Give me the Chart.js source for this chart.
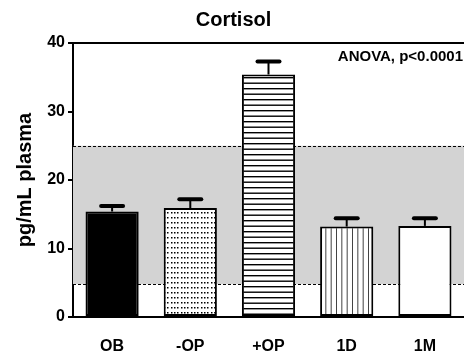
<!DOCTYPE html>
<html>
<head>
<meta charset="utf-8">
<script src="https://cdn.jsdelivr.net/npm/chart.js@4.4.1/dist/chart.umd.min.js"></script>
<style>
  html, body { margin: 0; padding: 0; background: #fff; }
  #wrap { width: 464px; height: 355px; }
</style>
</head>
<body>
<div id="wrap"><canvas id="chart"></canvas></div>
<script>
// Chart data
const categories = ['OB', '-OP', '+OP', '1D', '1M'];
const means = [15.4, 15.9, 35.4, 13.2, 13.3];
const sems = [0.8, 1.3, 1.9, 1.2, 1.1];
const yTicks = [0, 10, 20, 30, 40];
const normalRange = [4.8, 25]; // shaded reference band

// Fill patterns for the bars
function makePattern(w, h, draw) {
    const c = document.createElement('canvas');
    c.width = w;
    c.height = h;
    const g = c.getContext('2d');
    g.fillStyle = '#fff';
    g.fillRect(0, 0, w, h);
    draw(g);
    return c.getContext('2d').createPattern(c, 'repeat');
}

const dots = makePattern(10, 5, (g) => {
    g.fillStyle = '#000';
    [1, 4, 7].forEach((x) => g.fillRect(x, 2, 1.5, 1.5));
});
const hStripes = makePattern(4, 11, (g) => {
    g.fillStyle = '#000';
    g.fillRect(0, 0, 4, 1.4);
    g.fillRect(0, 5.5, 4, 1.4);
});
const vStripes = makePattern(16, 4, (g) => {
    g.fillStyle = '#444';
    [0, 5.33, 10.67].forEach((x) => g.fillRect(x, 0, 1, 4));
});
const fills = ['#000', dots, hStripes, vStripes, '#fff'];

// Grey reference band with dashed edges, drawn behind the bars
const bandPlugin = {
    id: 'band',
    beforeDatasetsDraw(chart) {
        const { ctx, chartArea, scales } = chart;
        const yLo = scales.y.getPixelForValue(normalRange[0]);
        const yHi = scales.y.getPixelForValue(normalRange[1]);
        ctx.save();
        ctx.fillStyle = '#d3d3d3';
        ctx.fillRect(chartArea.left, yHi, chartArea.right - chartArea.left, yLo - yHi);
        ctx.strokeStyle = '#000';
        ctx.lineWidth = 1;
        ctx.setLineDash([3, 2]);
        [yLo, yHi].forEach((y) => {
            ctx.beginPath();
            ctx.moveTo(chartArea.left, Math.round(y) + 0.5);
            ctx.lineTo(chartArea.right, Math.round(y) + 0.5);
            ctx.stroke();
        });
        ctx.restore();
    }
};

// Upper error bars (mean + SEM)
const errorBarPlugin = {
    id: 'errorBars',
    afterDatasetsDraw(chart) {
        const { ctx, scales } = chart;
        const meta = chart.getDatasetMeta(0);
        ctx.save();
        ctx.strokeStyle = '#000';
        meta.data.forEach((bar, i) => {
            const yTop = scales.y.getPixelForValue(means[i] + sems[i]);
            ctx.lineWidth = 2;
            ctx.lineCap = 'butt';
            ctx.beginPath();
            ctx.moveTo(bar.x, bar.y);
            ctx.lineTo(bar.x, yTop);
            ctx.stroke();
            ctx.lineWidth = 4;
            ctx.lineCap = 'round';
            ctx.beginPath();
            ctx.moveTo(bar.x - 11, yTop);
            ctx.lineTo(bar.x + 11, yTop);
            ctx.stroke();
        });
        ctx.restore();
    }
};

// ANOVA note in the top-right corner
const notePlugin = {
    id: 'note',
    afterDraw(chart) {
        const { ctx } = chart;
        ctx.save();
        ctx.font = 'bold 15px "Liberation Sans", Arial, sans-serif';
        ctx.fillStyle = '#000';
        ctx.textAlign = 'right';
        ctx.textBaseline = 'alphabetic';
        ctx.fillText('ANOVA, p<0.0001', 463, 61);
        ctx.restore();
    }
};

const font = '"Liberation Sans", Arial, sans-serif';

new Chart(document.getElementById('chart'), {
    type: 'bar',
    data: {
        labels: categories,
        datasets: [{
            data: means,
            backgroundColor: fills,
            borderColor: '#000',
            borderWidth: 2,
            borderSkipped: false,
            barPercentage: 0.68,
            categoryPercentage: 1
        }]
    },
    options: {
        responsive: true,
        maintainAspectRatio: false,
        animation: false,
        layout: { padding: { left: 0, right: -3, top: 0, bottom: 0 } },
        plugins: {
            legend: { display: false },
            tooltip: { enabled: false },
            title: {
                display: true,
                text: 'Cortisol',
                color: '#000',
                font: { family: font, size: 20, weight: 'bold', lineHeight: 1.2 },
                padding: { top: 8, bottom: 11 }
            }
        },
        scales: {
            x: {
                afterFit: (scale) => { scale.height = 38; },
                grid: { display: false, drawTicks: false },
                border: { display: true, color: '#000', width: 2 },
                ticks: {
                    color: '#000',
                    padding: 20,
                    font: { family: font, size: 16, weight: 'bold' }
                }
            },
            y: {
                min: 0,
                max: 40,
                afterFit: (scale) => { scale.width = 73; },
                afterBuildTicks: (scale) => {
                    scale.ticks = yTicks.map((v) => ({ value: v }));
                },
                grid: {
                    color: (ctx) => (ctx.tick && ctx.tick.value === 40 ? '#000' : 'rgba(0,0,0,0)'),
                    tickColor: '#000',
                    tickLength: 5,
                    lineWidth: 2
                },
                border: { display: true, color: '#000', width: 2 },
                ticks: {
                    color: '#000',
                    padding: 3,
                    font: { family: font, size: 16, weight: 'bold' }
                },
                title: {
                    display: true,
                    text: 'pg/mL plasma',
                    color: '#000',
                    font: { family: font, size: 20, weight: 'bold', lineHeight: 1.2 },
                    padding: { top: 13, bottom: 0 }
                }
            }
        }
    },
    plugins: [bandPlugin, errorBarPlugin, notePlugin]
});
</script>
</body>
</html>
